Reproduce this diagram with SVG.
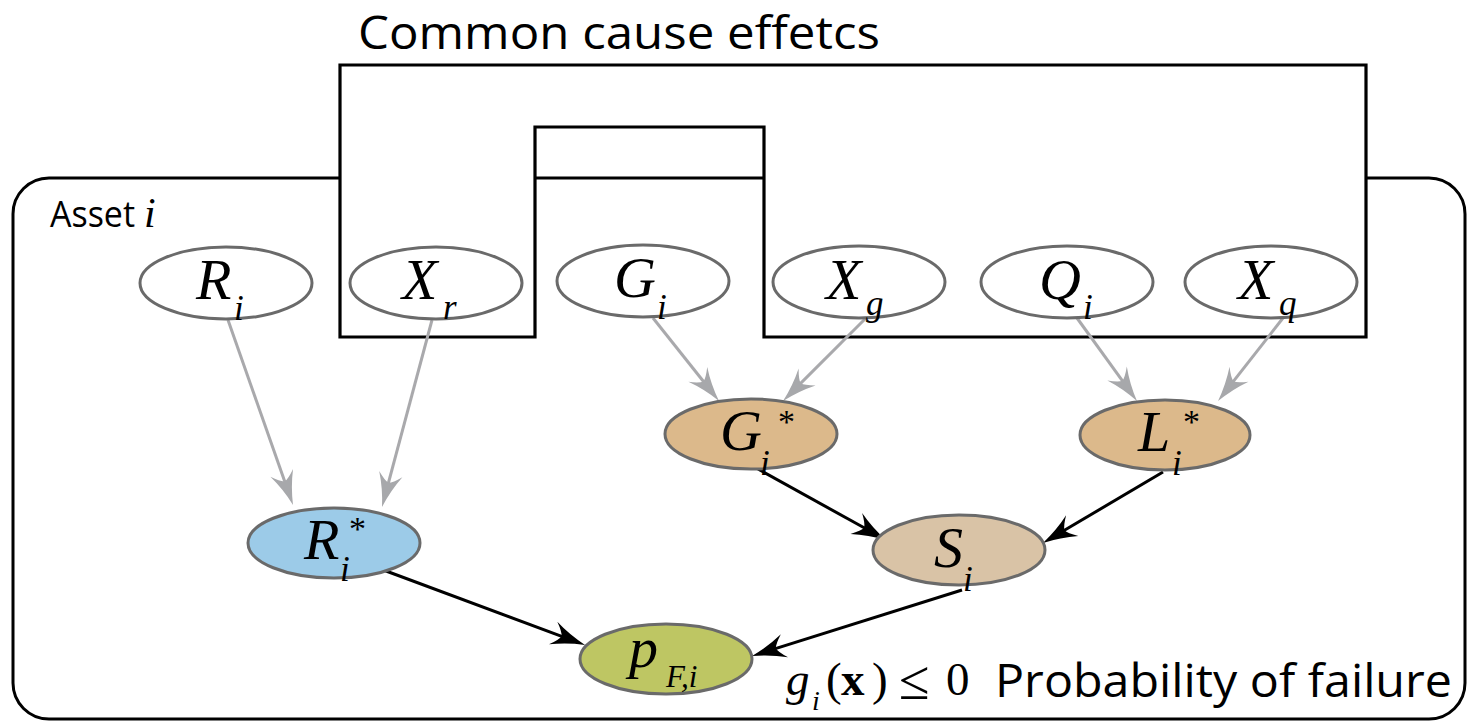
<svg xmlns="http://www.w3.org/2000/svg" width="1473" height="722" viewBox="0 0 1473 722">
<style>
.frame{fill:none;stroke:#000;stroke-width:3}
.cc{fill:#fff;stroke:#000;stroke-width:3.2}
.node{stroke:#6a6a6a;stroke-width:3}
.w{fill:#fff}
.blue{fill:#9ccbe8}
.tan{fill:#dcb98b}
.sand{fill:#d9c3a6}
.olive{fill:#bec663}
.m{font-family:"Liberation Serif","Times New Roman",serif;font-style:italic;fill:#000}
.big{font-size:58px}
.sub{font-size:35px}
.star{font-family:"Liberation Serif","Times New Roman",serif;font-size:34px;fill:#000}
.lbl{font-family:"Open Sans","Noto Sans",sans-serif;fill:#000}
.rm{font-family:"Liberation Serif","Times New Roman",serif;fill:#000}
.eg{stroke:#a9a9ac;stroke-width:3;fill:none}
.eb{stroke:#000;stroke-width:3;fill:none}
</style>
<defs>
<marker id="ag" markerUnits="userSpaceOnUse" orient="auto" overflow="visible" markerWidth="1" markerHeight="1" refX="0" refY="0">
<path d="M22,0 Q4,-4 -12,-12 Q-4,-4 -3,0 Q-4,4 -12,12 Q4,4 22,0 Z" fill="#a7a8ab"/>
</marker>
<marker id="ab" markerUnits="userSpaceOnUse" orient="auto" overflow="visible" markerWidth="1" markerHeight="1" refX="0" refY="0">
<path d="M22,0 Q4,-4 -12,-12 Q-4,-4 -3,0 Q-4,4 -12,12 Q4,4 22,0 Z" fill="#000"/>
</marker>
</defs>
<rect width="1473" height="722" fill="#fff"/>

<g id="asset">
<rect class="frame" x="13" y="178" width="1452" height="541" rx="36" ry="36"/>
<text class="lbl" x="50" y="227" font-size="36" textLength="85" lengthAdjust="spacingAndGlyphs">Asset</text>
<text class="m" x="144" y="227" font-size="42">i</text>
</g>

<g id="common-cause">
<path class="cc" d="M340,65 H1366 V337 H764 V127 H535 V337 H340 Z"/>
<text class="lbl" x="358" y="49" font-size="45" textLength="522" lengthAdjust="spacingAndGlyphs">Common cause effetcs</text>
</g>

<g id="connectors">
<line class="eg" x1="228" y1="320" x2="285.7" y2="484.2" marker-end="url(#ag)"/>
<line class="eg" x1="432" y1="320" x2="387.7" y2="485.7" marker-end="url(#ag)"/>
<line class="eg" x1="653" y1="318" x2="705.3" y2="383.8" marker-end="url(#ag)"/>
<line class="eg" x1="866" y1="318" x2="798.6" y2="385.4" marker-end="url(#ag)"/>
<line class="eg" x1="1077" y1="318" x2="1124.1" y2="383.2" marker-end="url(#ag)"/>
<line class="eg" x1="1283" y1="318" x2="1231.6" y2="383.7" marker-end="url(#ag)"/>
<line class="eb" x1="758" y1="469" x2="866.8" y2="529.3" marker-end="url(#ab)"/>
<line class="eb" x1="1163" y1="472" x2="1061.9" y2="531.8" marker-end="url(#ab)"/>
<line class="eb" x1="378" y1="568" x2="564.4" y2="637.3" marker-end="url(#ab)"/>
<line class="eb" x1="962" y1="590" x2="773" y2="649.4" marker-end="url(#ab)"/>
</g>

<g id="node-Ri">
<ellipse class="node w" cx="226" cy="283" rx="86" ry="36"/>
<text class="m big" x="196" y="299">R</text><text class="m sub" x="234" y="320">i</text>
</g>
<g id="node-Xr">
<ellipse class="node w" cx="436" cy="283" rx="86" ry="36"/>
<text class="m big" x="402" y="299">X</text><text class="m sub" x="443" y="319">r</text>
</g>
<g id="node-Gi">
<ellipse class="node w" cx="643" cy="281" rx="86" ry="36"/>
<text class="m big" x="614" y="297">G</text><text class="m sub" x="657" y="319">i</text>
</g>
<g id="node-Xg">
<ellipse class="node w" cx="859" cy="282" rx="86" ry="36"/>
<text class="m big" x="826" y="299">X</text><text class="m sub" x="866" y="315">g</text>
</g>
<g id="node-Qi">
<ellipse class="node w" cx="1067" cy="282" rx="86" ry="36"/>
<text class="m big" x="1039" y="299">Q</text><text class="m sub" x="1083" y="319">i</text>
</g>
<g id="node-Xq">
<ellipse class="node w" cx="1271" cy="282" rx="86" ry="36"/>
<text class="m big" x="1238" y="299">X</text><text class="m sub" x="1279" y="315">q</text>
</g>
<g id="node-Gstar">
<ellipse class="node tan" cx="751" cy="434" rx="86" ry="35"/>
<text class="m big" x="720" y="450">G</text><text class="star" x="778" y="433">*</text><text class="m sub" x="760" y="475">i</text>
</g>
<g id="node-Lstar">
<ellipse class="node tan" cx="1165" cy="435" rx="85" ry="35"/>
<text class="m big" x="1138" y="451">L</text><text class="star" x="1183" y="433">*</text><text class="m sub" x="1172" y="475">i</text>
</g>
<g id="node-Rstar">
<ellipse class="node blue" cx="334" cy="543" rx="86" ry="35"/>
<text class="m big" x="304" y="559">R</text><text class="star" x="349" y="540">*</text><text class="m sub" x="340" y="581">i</text>
</g>
<g id="node-Si">
<ellipse class="node sand" cx="959" cy="550" rx="86" ry="35"/>
<text class="m big" x="934" y="567">S</text><text class="m sub" x="963" y="591">i</text>
</g>
<g id="node-pF">
<ellipse class="node olive" cx="666" cy="659" rx="86" ry="35"/>
<text class="m big" x="629" y="667">p</text><text class="m" x="666" y="687" font-size="31">F,i</text>
</g>

<g id="failure-label">
<text class="m" x="786" y="695" font-size="47">g</text>
<text class="m" x="812" y="710" font-size="28">i</text>
<text class="rm" x="826" y="695" font-size="47">(</text>
<text class="rm" x="841" y="695" font-size="47" font-weight="bold">x</text>
<text class="rm" x="872" y="695" font-size="47">)</text>
<text class="rm" x="899" y="699" font-size="56">≤</text>
<text class="rm" x="946" y="695" font-size="47">0</text>
<text class="lbl" x="995" y="697" font-size="45" textLength="457" lengthAdjust="spacingAndGlyphs">Probability of failure</text>
</g>
</svg>
